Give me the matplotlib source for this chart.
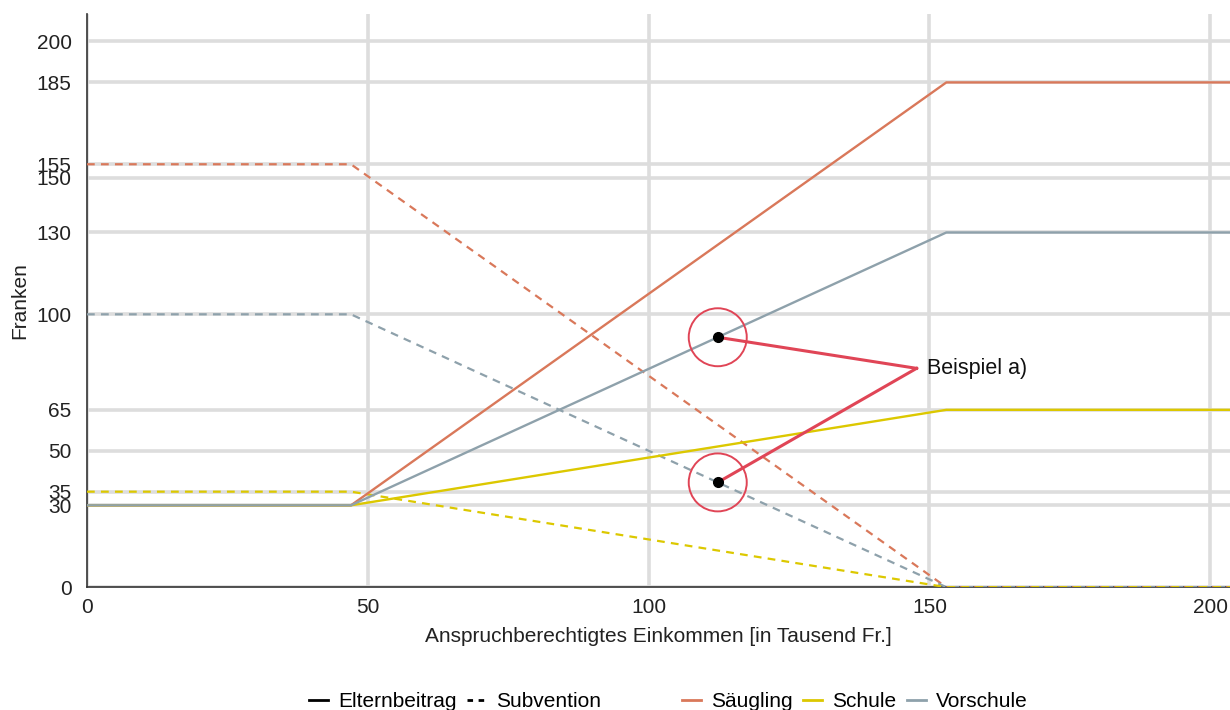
import matplotlib
matplotlib.use('Agg')
import matplotlib.pyplot as plt
from matplotlib.lines import Line2D
from matplotlib.patches import Ellipse

plt.rcParams['font.family'] = ['Liberation Sans', 'DejaVu Sans']

# Einkommensstufen (Tausend Fr.) und Beiträge je Stufe
income = [0, 47, 153, 210]
eltern = {
    'Säugling': [30, 30, 185, 185],
    'Schule': [30, 30, 65, 65],
    'Vorschule': [30, 30, 130, 130],
}
subvention = {
    'Säugling': [155, 155, 0, 0],
    'Schule': [35, 35, 0, 0],
    'Vorschule': [100, 100, 0, 0],
}
colors = {'Säugling': '#d9785a', 'Schule': '#dcc800', 'Vorschule': '#8ea1ab'}

y_ticks = [0, 30, 35, 50, 65, 100, 130, 150, 155, 185, 200]
x_ticks = [0, 50, 100, 150, 200]

# Beispiel a)
beispiel_x = 112.3
beispiel_y = [91.6, 38.4]
label_pos = (147.7, 80.2)

fs = 15

fig = plt.figure(figsize=(12.3, 7.1), dpi=100)
ax = fig.add_axes([0.0707, 0.173, 0.9293, 0.807])

for name in ['Säugling', 'Vorschule', 'Schule']:
    ax.plot(income, subvention[name], color=colors[name], lw=1.6,
            linestyle=(0, (3.5, 2.8)), zorder=3)
for name in ['Säugling', 'Schule', 'Vorschule']:
    ax.plot(income, eltern[name], color=colors[name], lw=1.7, zorder=3)

ax.set_xlim(0, 203.5)
ax.set_ylim(0, 210)
ax.set_xticks(x_ticks)
ax.set_yticks(y_ticks)
ax.grid(True, color='#dddddd', lw=2.6, zorder=0)
ax.set_axisbelow(True)
ax.tick_params(length=0, labelsize=fs, colors='#222222')
ax.tick_params(axis='y', pad=11)
ax.tick_params(axis='x', pad=8)
for s in ['top', 'right']:
    ax.spines[s].set_visible(False)
for s in ['left', 'bottom']:
    ax.spines[s].set_color('#333333')
    ax.spines[s].set_linewidth(1.2)

ax.set_xlabel('Anspruchberechtigtes Einkommen [in Tausend Fr.]', fontsize=fs,
              color='#222222', labelpad=7)
ax.set_ylabel('Franken', fontsize=fs, color='#222222', labelpad=5)

# Markierung des Beispiels
red = '#e04556'
for yv in beispiel_y:
    ax.plot([beispiel_x, label_pos[0]], [yv, label_pos[1]], color=red, lw=2.2, zorder=5)
for yv in beispiel_y:
    ax.plot(beispiel_x, yv, 'o', color='black', ms=7, zorder=6)
    circ = Ellipse((beispiel_x, yv), width=58 / 5.615, height=58 / 2.73,
                   fill=False, ec=red, lw=1.4, zorder=6)
    ax.add_patch(circ)
ax.text(label_pos[0] + 1.9, label_pos[1], 'Beispiel a)', fontsize=15.5,
        va='center', ha='left', color='#111111', zorder=7)

# Legenden unten
style_handles = [Line2D([], [], color='black', lw=2),
                 Line2D([], [], color='black', lw=2, linestyle=(0, (2, 2)))]
fig.legend(style_handles, ['Elternbeitrag', 'Subvention'], loc='center',
           bbox_to_anchor=(0.37, 0.012), ncol=2, frameon=False,
           fontsize=fs, handlelength=0.9, handletextpad=0.5,
           columnspacing=0.5)
group_handles = [Line2D([], [], color=colors[n], lw=2) for n in colors]
fig.legend(group_handles, list(colors), loc='center',
           bbox_to_anchor=(0.695, 0.012), ncol=3, frameon=False,
           fontsize=fs, handlelength=0.9, handletextpad=0.5,
           columnspacing=0.5)

fig.savefig('out.png', dpi=100)
